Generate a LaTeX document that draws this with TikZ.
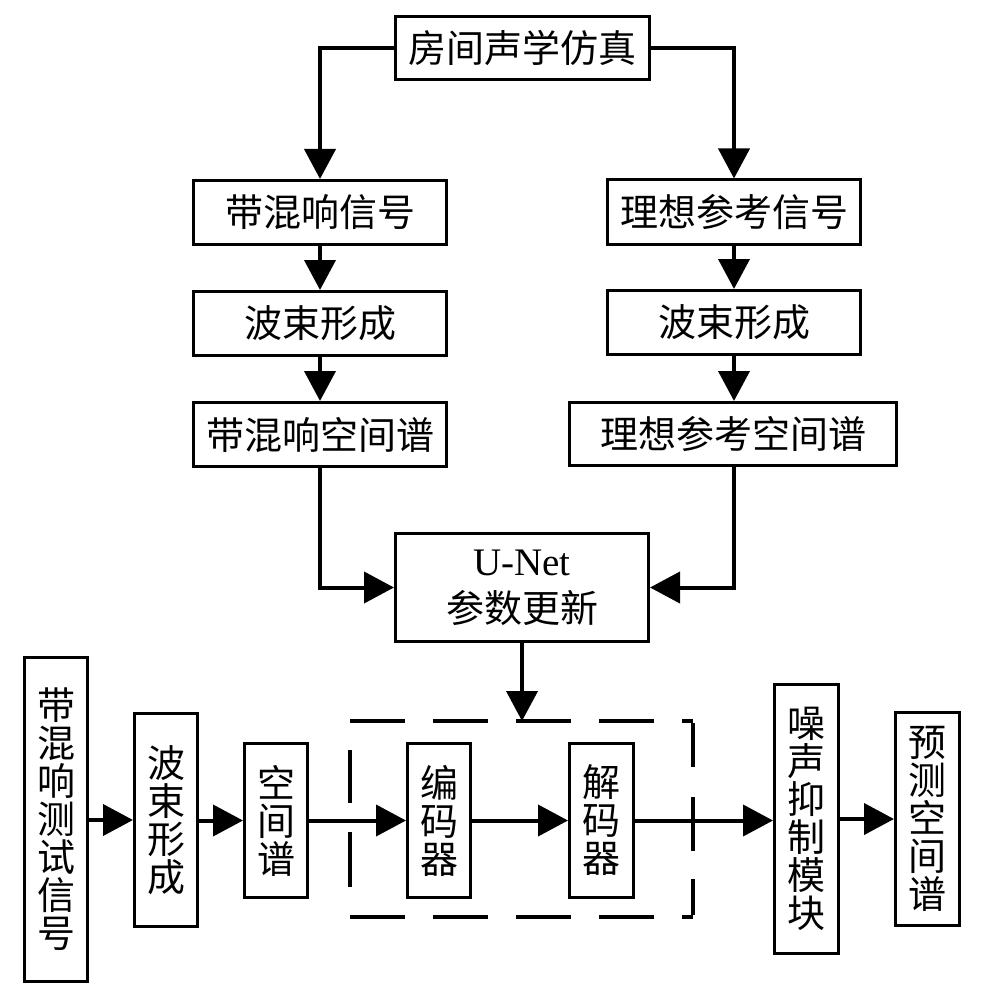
\documentclass[tikz,border=0pt]{standalone}
\usepackage{fontspec}
\setmainfont{Liberation Serif}
\newfontfamily\cjk{Noto Sans CJK SC}
\usetikzlibrary{arrows.meta}
\begin{document}
\begin{tikzpicture}[x=1pt,y=-1pt,
  box/.style={draw, line width=3pt, inner sep=0pt, align=center,
    font=\cjk\fontsize{38}{38}\selectfont},
  hbox/.style={box, minimum width=253pt, minimum height=64pt},
  vbox/.style={box, minimum width=63pt},
  arr/.style={line width=4pt, -{Triangle[length=30pt,width=31pt]}},
  frame/.style={line width=4pt}]
\fill[white] (0,0) rectangle (980,1003);
\useasboundingbox (0,0) rectangle (980,1003);

% upper part
\node[hbox, minimum width=254pt, minimum height=63pt] (top) at (522.5,48) {房间声学仿真};
\node[hbox] (sig1) at (320,212.5) {带混响信号};
\node[hbox] (sig2) at (734,212) {理想参考信号};
\node[hbox] (bf1) at (320,323.5) {波束形成};
\node[hbox] (bf2) at (734,322.5) {波束形成};
\node[hbox] (sp1) at (320,434.5) {带混响空间谱};
\node[hbox, minimum width=327pt, minimum height=63pt] (sp2) at (733,434) {理想参考空间谱};
\node[hbox, minimum height=108pt, font=\fontsize{39}{47}\selectfont] (unet) at (522,587.5)
  {U-Net\\\cjk\fontsize{38}{47}\selectfont 参数更新};

% lower row
\node[vbox, minimum height=324pt] (test) at (56,819.5) {带\\混\\响\\测\\试\\信\\号};
\node[vbox, minimum height=213pt] (bf3) at (166,820) {波\\束\\形\\成};
\node[vbox, minimum height=154pt] (sp3) at (276,820.5) {空\\间\\谱};
\node[vbox, minimum height=154pt] (enc) at (439,820.5) {编\\码\\器};
\node[vbox, minimum width=64pt, minimum height=154pt] (dec) at (601.5,820.5) {解\\码\\器};
\node[vbox, minimum width=64pt, minimum height=269pt] (ns) at (806.5,819) {噪\\声\\抑\\制\\模\\块};
\node[vbox, minimum width=64pt, minimum height=213pt] (pred) at (927.5,819) {预\\测\\空\\间\\谱};

% dashed frame
\coordinate (dTL) at (350,721);
\coordinate (dTR) at (693,721);
\coordinate (dBL) at (350,917);
\coordinate (dBR) at (693,917);
\draw[frame, dash pattern=on 55pt off 28pt] (dTL) -- (dTR);
\draw[frame, dash pattern=on 55pt off 28pt] (dBL) -- (dBR);
\draw[frame, dash pattern=on 0pt off 29pt on 53pt off 29pt on 55pt off 30pt] (dTL) -- (dBL);
\draw[frame, dash pattern=on 44pt off 30pt on 54pt off 28pt on 60pt off 0pt] ([yshift=-2pt]dTR) -- ([yshift=2pt]dBR);
\coordinate (dtop) at (unet.south |- dTL);

% connectors
\draw[arr] (top.west) -| (sig1.north);
\draw[arr] (top.east) -| (sig2.north);
\draw[arr] (sig1) -- (bf1);
\draw[arr] (bf1) -- (sp1);
\draw[arr] (sig2) -- (bf2);
\draw[arr] (bf2.south) -- (bf2.south |- sp2.north);
\draw[arr] (sp1.south) |- (unet.west);
\draw[arr] (sp2.south -| bf2.south) |- (unet.east);
\draw[arr] (unet.south) -- (dtop);

\draw[arr] (test.east |- bf3.west) -- (bf3.west);
\draw[arr] (bf3.east |- sp3.west) -- (sp3.west);
\draw[arr] (sp3.east) -- (enc.west);
\draw[arr] (enc.east) -- (dec.west);
\draw[arr] (dec.east) -- (ns.west |- dec.east);
\draw[arr] (ns.east |- pred.west) -- (pred.west);
\end{tikzpicture}
\end{document}
